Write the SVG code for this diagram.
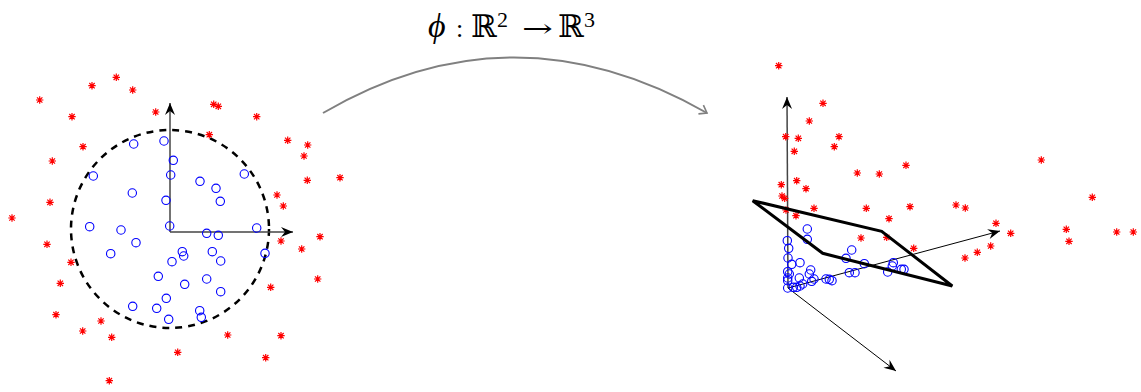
<svg xmlns="http://www.w3.org/2000/svg" xmlns:xlink="http://www.w3.org/1999/xlink" width="1141" height="392" viewBox="0 0 1141 392">
<style>
.st{stroke:#ff0000;stroke-width:1.2;fill:none}
.ci{stroke:#0000ff;stroke-width:1.1;fill:none}
.ax{stroke:#444;stroke-width:1.5;fill:none}
.ax3{stroke:#000;stroke-width:1;fill:none}
.title text{font-family:"DejaVu Serif","Liberation Serif",serif;font-size:31px;fill:#000}
.title text.it{font-family:"Liberation Serif","DejaVu Serif",serif;font-style:italic;font-size:34px}
.title text.col{font-family:"Liberation Serif","DejaVu Serif",serif;font-size:26px}
.title text.arr{font-size:25px}
.title text.sup{font-family:"Liberation Serif","DejaVu Serif",serif;font-size:22px}
</style>
<defs>
<g id="s" class="st"><path d="M-3.7,0H3.7M0,-3.7V3.7M-2.7,-2.7L2.7,2.7M-2.7,2.7L2.7,-2.7"/></g>
<circle id="o" class="ci" r="4.2"/>
<marker id="ah" markerUnits="userSpaceOnUse" markerWidth="14" markerHeight="12" refX="12" refY="5" orient="auto" overflow="visible">
<path d="M12,5L0,0L4,5L0,10Z" fill="#000"/>
</marker>
<marker id="oh" markerUnits="userSpaceOnUse" markerWidth="12" markerHeight="12" refX="0" refY="0" orient="auto" overflow="visible">
<path d="M-7,-5L0,0L-7,5" fill="none" stroke="#808080" stroke-width="1.6"/>
</marker>
</defs>
<rect width="1141" height="392" fill="#fff"/>

<g id="title" class="title">
<text class="it" x="428" y="37">ϕ</text>
<text class="col" x="456" y="37">:</text>
<text x="471" y="37">ℝ</text>
<text class="sup" x="497" y="27">2</text>
<text class="arr" x="522" y="37" textLength="31" lengthAdjust="spacingAndGlyphs">→</text>
<text x="558" y="37">ℝ</text>
<text class="sup" x="584" y="27">3</text>
</g>

<g id="connectors">
<path d="M323,113 Q513,2 707,113" fill="none" stroke="#808080" stroke-width="2" marker-end="url(#oh)"/>
</g>

<g id="left-plot">
<circle cx="170" cy="229" r="99" fill="none" stroke="#000" stroke-width="2.5" stroke-dasharray="7 6"/>
<line class="ax" x1="170" y1="232" x2="170" y2="103" marker-end="url(#ah)"/>
<line class="ax" x1="170" y1="232" x2="293" y2="232" marker-end="url(#ah)"/>
<g id="left-class1">
<use href="#s" x="116.3" y="77.3"/><use href="#s" x="92" y="85.7"/><use href="#s" x="132.7" y="90"/>
<use href="#s" x="39.7" y="100"/><use href="#s" x="72" y="116.7"/><use href="#s" x="155.7" y="112"/>
<use href="#s" x="213.7" y="104.3"/><use href="#s" x="218.3" y="106.3"/><use href="#s" x="256.7" y="116.7"/>
<use href="#s" x="209.3" y="134.7"/><use href="#s" x="83" y="146.7"/><use href="#s" x="52.3" y="161"/>
<use href="#s" x="287.7" y="140.3"/><use href="#s" x="307.7" y="145"/><use href="#s" x="304" y="156"/>
<use href="#s" x="307.3" y="180.3"/><use href="#s" x="340" y="177.7"/><use href="#s" x="277" y="195"/>
<use href="#s" x="283.3" y="206"/><use href="#s" x="50" y="202.3"/><use href="#s" x="12" y="218"/>
<use href="#s" x="47" y="244.3"/><use href="#s" x="71" y="262.3"/><use href="#s" x="60.3" y="283.3"/>
<use href="#s" x="56" y="314.7"/><use href="#s" x="101" y="321"/><use href="#s" x="82.7" y="331"/>
<use href="#s" x="111.7" y="337.3"/><use href="#s" x="177.7" y="352.3"/><use href="#s" x="227.7" y="335"/>
<use href="#s" x="281" y="335.7"/><use href="#s" x="265.7" y="357.7"/><use href="#s" x="109.3" y="380.7"/>
<use href="#s" x="281" y="241"/><use href="#s" x="320" y="236.7"/><use href="#s" x="301.7" y="249"/>
<use href="#s" x="317.7" y="279"/><use href="#s" x="270.7" y="287.3"/>
</g>
<g id="left-class2">
<use href="#o" x="133.7" y="144"/><use href="#o" x="164" y="141"/><use href="#o" x="173.3" y="160.3"/>
<use href="#o" x="170.7" y="175"/><use href="#o" x="93.3" y="176"/><use href="#o" x="244.3" y="174"/>
<use href="#o" x="200" y="181.3"/><use href="#o" x="216" y="188.3"/><use href="#o" x="132.3" y="193"/>
<use href="#o" x="166" y="200.3"/><use href="#o" x="220.3" y="201.3"/><use href="#o" x="89.7" y="226.7"/>
<use href="#o" x="121" y="230"/><use href="#o" x="169.7" y="226"/><use href="#o" x="256.7" y="228"/>
<use href="#o" x="206.7" y="233.3"/><use href="#o" x="218.3" y="235.3"/><use href="#o" x="136" y="242.7"/>
<use href="#o" x="110.7" y="253.7"/><use href="#o" x="182.3" y="251.7"/><use href="#o" x="183.7" y="256"/>
<use href="#o" x="172" y="261.7"/><use href="#o" x="212.3" y="251.7"/><use href="#o" x="220.7" y="261"/>
<use href="#o" x="265" y="253.3"/><use href="#o" x="158.3" y="276.3"/><use href="#o" x="184.7" y="284.3"/>
<use href="#o" x="206.7" y="279"/><use href="#o" x="220.7" y="291.7"/><use href="#o" x="166.3" y="298.3"/>
<use href="#o" x="132.7" y="306.3"/><use href="#o" x="156.7" y="308.3"/><use href="#o" x="199.7" y="310.7"/>
<use href="#o" x="201.3" y="317.3"/><use href="#o" x="168.7" y="319.3"/>
</g>
</g>

<g id="right-plot">
<line class="ax" x1="788" y1="288" x2="787" y2="97" marker-end="url(#ah)"/>
<line class="ax3" x1="788" y1="288" x2="1000" y2="231" marker-end="url(#ah)"/>
<line class="ax3" x1="788" y1="288" x2="896" y2="371" marker-end="url(#ah)"/>
<g id="right-class1">
<use href="#s" x="778.7" y="65.7"/><use href="#s" x="823" y="103.3"/><use href="#s" x="809.3" y="121"/>
<use href="#s" x="785.7" y="136.7"/><use href="#s" x="798.3" y="138.3"/><use href="#s" x="839" y="136.7"/>
<use href="#s" x="834.3" y="146.7"/><use href="#s" x="794.3" y="151.3"/><use href="#s" x="857.3" y="173"/>
<use href="#s" x="879.3" y="174"/><use href="#s" x="906" y="165.3"/><use href="#s" x="1041.3" y="160"/>
<use href="#s" x="781.3" y="184.7"/><use href="#s" x="796.7" y="180.7"/><use href="#s" x="806" y="188.7"/>
<use href="#s" x="782" y="196"/><use href="#s" x="784.7" y="198.3"/><use href="#s" x="1092.3" y="197.3"/>
<use href="#s" x="786" y="210"/><use href="#s" x="796" y="215.7"/><use href="#s" x="814" y="208.3"/>
<use href="#s" x="866.3" y="208.3"/><use href="#s" x="910" y="206.7"/><use href="#s" x="956" y="205"/>
<use href="#s" x="965.3" y="208"/><use href="#s" x="889" y="218.7"/><use href="#s" x="996" y="223.3"/>
<use href="#s" x="1010.7" y="233.3"/><use href="#s" x="1066.3" y="229.3"/><use href="#s" x="1069" y="241.3"/>
<use href="#s" x="1116.7" y="232"/><use href="#s" x="1133.3" y="232"/><use href="#s" x="861" y="238"/>
<use href="#s" x="886.7" y="237.3"/><use href="#s" x="913.7" y="248.3"/><use href="#s" x="990.7" y="246"/>
<use href="#s" x="977.3" y="252.3"/><use href="#s" x="965" y="258"/>
</g>
<g id="right-class2">
<use href="#o" x="807.3" y="229"/><use href="#o" x="807.3" y="239.3"/><use href="#o" x="787.3" y="240.7"/>
<use href="#o" x="788.7" y="248.3"/><use href="#o" x="788" y="258"/><use href="#o" x="800" y="262.7"/>
<use href="#o" x="791.7" y="264.3"/><use href="#o" x="787.7" y="271.7"/><use href="#o" x="789.3" y="274"/>
<use href="#o" x="810.7" y="270"/><use href="#o" x="809.3" y="274"/><use href="#o" x="814" y="279"/>
<use href="#o" x="811.7" y="281.3"/><use href="#o" x="799.3" y="278"/><use href="#o" x="787.7" y="278"/>
<use href="#o" x="787.7" y="280.7"/><use href="#o" x="787.7" y="288"/><use href="#o" x="793.3" y="287.3"/>
<use href="#o" x="796.7" y="287.3"/><use href="#o" x="800" y="286"/><use href="#o" x="802.7" y="284"/>
<use href="#o" x="826" y="279"/><use href="#o" x="829.3" y="279.3"/><use href="#o" x="832" y="280.7"/>
<use href="#o" x="851.7" y="250"/><use href="#o" x="846" y="258.3"/><use href="#o" x="849.3" y="272.7"/>
<use href="#o" x="855" y="272.7"/><use href="#o" x="864.3" y="263.7"/><use href="#o" x="893.3" y="262.7"/>
<use href="#o" x="892.3" y="266"/><use href="#o" x="887.7" y="272"/><use href="#o" x="901.3" y="269.3"/>
<use href="#o" x="904" y="269.3"/>
</g>
<polygon points="752.7,200.7 881.7,231.3 952.3,286 822.7,253.3" fill="none" stroke="#000" stroke-width="3" stroke-linejoin="miter"/>
</g>
</svg>
